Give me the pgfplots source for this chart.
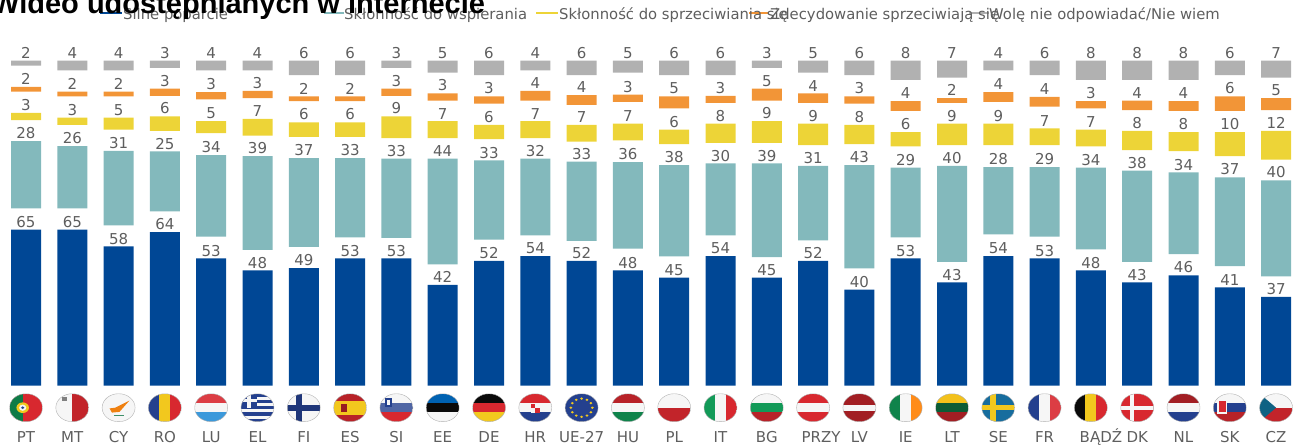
\documentclass[border=0pt]{standalone}
\usepackage{fontspec}
\setmainfont{DejaVu Sans}
\newfontfamily\titlefont{Liberation Sans}
\usepackage{pgfplots}
\usepackage{pgfplotstable}
\pgfplotsset{compat=1.18}
\definecolor{cblue}{HTML}{004795}
\definecolor{cteal}{HTML}{83B9BC}
\definecolor{cyel}{HTML}{EDD437}
\definecolor{cora}{HTML}{F29537}
\definecolor{cgra}{HTML}{B1B1B1}
\definecolor{ctxt}{HTML}{5E5E5E}
\definecolor{fr}{HTML}{D8282F}
\definecolor{fb}{HTML}{24408E}
\definecolor{fg}{HTML}{129A58}
\definecolor{fy}{HTML}{F2C81E}
\definecolor{fw}{HTML}{F6F6F6}
\definecolor{fk}{HTML}{0A0A0A}
\pgfplotstableread{
x blue gapa teal gapb yel gapc ora gapd gra
0 65 8.85 28 8.85 3 8.85 2 8.85 2
1 65 8.85 26 8.85 3 8.85 2 8.85 4
2 58 8.85 31 8.85 5 8.85 2 8.85 4
3 64 8.6 25 8.6 6 8.6 3 8.6 3
4 53 9.1 34 9.1 5 9.1 3 9.1 4
5 48 8.6 39 8.6 7 8.6 3 8.6 4
6 49 8.85 37 8.85 6 8.85 2 8.85 6
7 53 8.85 33 8.85 6 8.85 2 8.85 6
8 53 8.6 33 8.6 9 8.6 3 8.6 3
9 42 8.6 44 8.6 7 8.6 3 8.6 5
10 52 8.85 33 8.85 6 8.85 3 8.85 6
11 54 8.6 32 8.6 7 8.6 4 8.6 4
12 52 8.35 33 8.35 7 8.35 4 8.35 6
13 48 9.1 36 9.1 7 9.1 3 9.1 5
14 45 8.85 38 8.85 6 8.85 5 8.85 6
15 54 8.6 30 8.6 8 8.6 3 8.6 6
16 45 8.6 39 8.6 9 8.6 5 8.6 3
17 52 8.6 31 8.6 9 8.6 4 8.6 5
18 40 8.85 43 8.85 8 8.85 3 8.85 6
19 53 8.85 29 8.85 6 8.85 4 8.85 8
20 43 8.6 40 8.6 9 8.6 2 8.6 7
21 54 9.1 28 9.1 9 9.1 4 9.1 4
22 53 9.1 29 9.1 7 9.1 4 9.1 6
23 48 8.85 34 8.85 7 8.85 3 8.85 8
24 43 8.6 38 8.6 8 8.6 4 8.6 8
25 46 8.85 34 8.85 8 8.85 4 8.85 8
26 41 8.85 37 8.85 10 8.85 6 8.85 6
27 37 8.6 40 8.6 12 8.6 5 8.6 7
}\datatable
% flag helpers: local unit circle, scaled to an ellipse
\newcommand{\fl}[2]{%
  \begin{scope}[shift={({26+46.3*#1},37.3)},x=16.5pt,y=14pt]
    \begin{scope}
      \clip (0,0) circle (1);
      \fill[fw] (-1,-1) rectangle (1,1);
      #2
    \end{scope}
    \draw[gray!60,line width=0.4pt] (0,0) circle (1);
  \end{scope}}
\newcommand{\hs}[3]{\fill[#1] (-1,1/3) rectangle (1,1);\fill[#2] (-1,-1/3) rectangle (1,1/3);\fill[#3] (-1,-1) rectangle (1,-1/3);}
\newcommand{\vs}[3]{\fill[#1] (-1,-1) rectangle (-1/3,1);\fill[#2] (-1/3,-1) rectangle (1/3,1);\fill[#3] (1/3,-1) rectangle (1,1);}
\pgfplotsset{
  seg/.style={fill=#1,draw=none,point meta=explicit symbolic,nodes near coords,
    every node near coord/.append style={yshift=1.2pt*\pgfplotspointmeta}},
}
\begin{document}
\begin{tikzpicture}[x=1pt,y=1pt]
\path[use as bounding box] (0,0) rectangle (1295,445);
\clip (0,0) rectangle (1295,445);
\begin{axis}[
  at={(0pt,59.3pt)},anchor=south west,
  scale only axis,width=1295pt,height=385.7pt,
  xmin=-0.5616,xmax=27.408,ymin=0,ymax=160.7,
  clip=false,
  ybar stacked,bar width=30pt,
  axis line style={draw=none},
  major tick length=0pt,
  ytick=\empty,
  xtick={0,...,27},
  xticklabels={PT,MT,CY,RO,LU,EL,FI,ES,SI,EE,DE,HR,UE-27,HU,PL,IT,BG,\hspace*{16pt}PRZY,LV,IE,LT,SE,FR,\hspace*{20pt}BĄDŹ,DK,NL,SK,CZ},
  xticklabel style={anchor=base,yshift=-56.5pt,text=ctxt,font=\fontsize{15}{16}\selectfont},
  every node near coord/.style={anchor=south,inner sep=2pt,text=ctxt,font=\fontsize{15}{16}\selectfont},
]
\addplot[seg=cblue] table[x=x,y=blue,meta=blue]{\datatable};
\addplot[fill=none,draw=none] table[x=x,y=gapa]{\datatable};
\addplot[seg=cteal] table[x=x,y=teal,meta=teal]{\datatable};
\addplot[fill=none,draw=none] table[x=x,y=gapb]{\datatable};
\addplot[seg=cyel] table[x=x,y=yel,meta=yel]{\datatable};
\addplot[fill=none,draw=none] table[x=x,y=gapc]{\datatable};
\addplot[seg=cora] table[x=x,y=ora,meta=ora]{\datatable};
\addplot[fill=none,draw=none] table[x=x,y=gapd]{\datatable};
\addplot[seg=cgra] table[x=x,y=gra,meta=gra]{\datatable};
\end{axis}
% flags
\fl{0}{\fill[fr] (-1,-1) rectangle (1,1);\fill[fg!80!black] (-1,-1) rectangle (-0.2,1);\fill[fy] (-0.2,0) circle (0.38);\fill[fw] (-0.2,0) circle (0.22);\fill[fb] (-0.2,0) circle (0.1);}
\fl{1}{\fill[fr!90!black] (0,-1) rectangle (1,1);\fill[gray] (-0.65,0.45) rectangle (-0.35,0.75);}
\fl{2}{\fill[orange!75!brown] (-0.55,-0.05) -- (-0.2,0.0) -- (0.3,0.3) -- (0.65,0.5) -- (0.35,0.1) -- (0.05,-0.3) -- (-0.4,-0.35) -- cycle;\fill[fg!60!gray] (-0.3,-0.62) rectangle (0.3,-0.5);}
\fl{3}{\vs{fb}{fy}{fr}}
\fl{4}{\fill[fr!90] (-1,1/3) rectangle (1,1);\fill[cyan!70!blue!80] (-1,-1) rectangle (1,-1/3);}
\fl{5}{\foreach \y in {-0.89,-0.45,0,0.45,0.89}{\fill[fb] (-1,\y-0.11) rectangle (1,\y+0.11);}\fill[fb] (-1,0.0) rectangle (-0.05,1);\fill[fw] (-0.63,0) rectangle (-0.42,1);\fill[fw] (-1,0.4) rectangle (-0.05,0.6);}
\fl{6}{\fill[fb!85!black] (-1,-0.22) rectangle (1,0.22);\fill[fb!85!black] (-0.5,-1) rectangle (-0.1,1);}
\fl{7}{\fill[fr!85!black] (-1,-1) rectangle (1,1);\fill[fy] (-1,-0.5) rectangle (1,0.5);\fill[fr!70!black] (-0.55,-0.28) rectangle (-0.2,0.28);}
\fl{8}{\hs{fw}{fb!80}{fr}\fill[fb] (-0.72,0.05) rectangle (-0.28,0.7);\fill[fw] (-0.6,0.2) rectangle (-0.4,0.55);}
\fl{9}{\hs{blue!45!cyan!70!black}{fk}{fw}}
\fl{10}{\hs{fk}{fr}{fy}}
\fl{11}{\hs{fr}{fw}{fb}\fill[fw] (-0.28,-0.4) rectangle (0.28,0.3);\fill[fr] (-0.28,0) rectangle (0,0.3);\fill[fr] (0,-0.4) rectangle (0.28,0);}
\fl{12}{\fill[fb] (-1,-1) rectangle (1,1);\foreach \a in {0,30,...,330}{\fill[fy] (\a:0.65) circle (0.09);}}
\fl{13}{\hs{fr!85!black}{fw}{fg!85!black}}
\fl{14}{\fill[fr!90!black] (-1,-1) rectangle (1,0);}
\fl{15}{\vs{fg}{fw}{fr}}
\fl{16}{\hs{fw}{fg}{fr!85!black}}
\fl{17}{\hs{fr}{fw}{fr}}
\fl{18}{\fill[fr!75!black] (-1,-1) rectangle (1,1);\fill[fw] (-1,-0.22) rectangle (1,0.22);}
\fl{19}{\vs{fg!85!black}{fw}{orange!90}}
\fl{20}{\hs{fy!90!orange}{fg!60!black}{fr!75!black}}
\fl{21}{\fill[fb!70!cyan!90!black] (-1,-1) rectangle (1,1);\fill[fy] (-1,-0.18) rectangle (1,0.18);\fill[fy] (-0.5,-1) rectangle (-0.15,1);}
\fl{22}{\vs{fb}{fw}{fr!90}}
\fl{23}{\vs{fk}{fy}{fr}}
\fl{24}{\fill[fr] (-1,-1) rectangle (1,1);\fill[fw] (-1,-0.13) rectangle (1,0.13);\fill[fw] (-0.45,-1) rectangle (-0.2,1);}
\fl{25}{\hs{fr!75!black}{fw}{fb}}
\fl{26}{\hs{fw}{fb}{fr!85!black}\fill[fw] (-0.78,-0.45) rectangle (-0.15,0.55);\fill[fr] (-0.68,-0.3) rectangle (-0.25,0.45);}
\fl{27}{\fill[fr!90!black] (-1,-1) rectangle (1,0);\fill[fb!60!cyan!70!black] (-1,1) -- (0,0) -- (-1,-1) -- cycle;}
% legend
\def\lf{\fontsize{14.8}{16}\selectfont}
\foreach \a/\b/\c in {100/122/cblue,324/344/cteal,536/558/cyel,749/769/cora,969/989/cgra}{\draw[\c,line width=2.4pt] (\a,432) -- (\b,432);}
\node[anchor=base west,inner sep=0,text=ctxt,font=\lf] at (123,425.5) {Silne poparcie};
\node[anchor=base west,inner sep=0,text=ctxt,font=\lf] at (344,425.5) {Skłonność do wspierania};
\node[anchor=base west,inner sep=0,text=ctxt,font=\lf] at (559,425.5) {Skłonność do sprzeciwiania się};
\node[anchor=base west,inner sep=0,text=ctxt,font=\lf] at (770,425.5) {Zdecydowanie sprzeciwiają się};
\node[anchor=base west,inner sep=0,text=ctxt,font=\lf] at (989,425.5) {Wolę nie odpowiadać/Nie wiem};
% title
\node[anchor=base west,inner sep=0,text=black,font=\titlefont\bfseries\fontsize{29}{30}\selectfont] at (-8,431) {Wideo udostępnianych w internecie};
\end{tikzpicture}
\end{document}
